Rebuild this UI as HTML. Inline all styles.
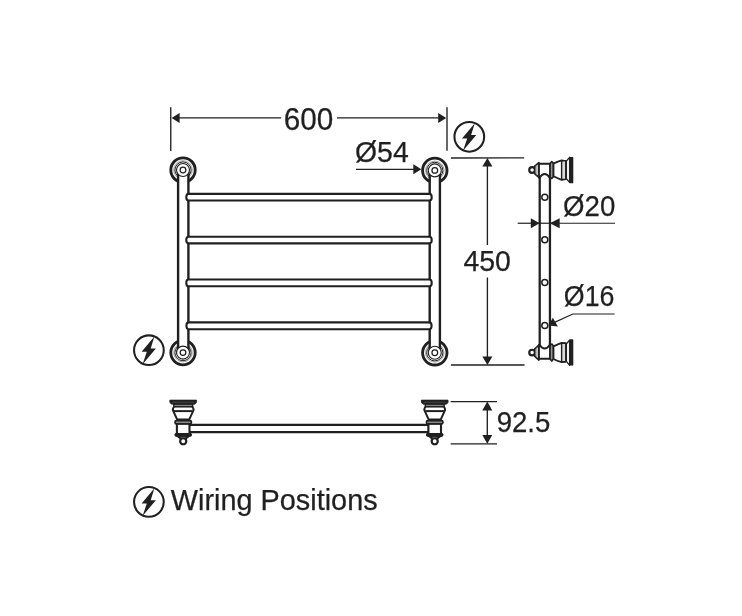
<!DOCTYPE html>
<html><head><meta charset="utf-8">
<style>
html,body{margin:0;padding:0;background:#fff;width:742px;height:616px;overflow:hidden}
svg{display:block;filter:grayscale(1)}
text{font-family:"Liberation Sans",sans-serif;fill:#231f20;stroke:#231f20;stroke-width:0.25}
</style></head><body>
<svg width="742" height="616" viewBox="0 0 742 616">
<defs>
  <g id="bolt">
    <circle cx="0" cy="0" r="14.85" fill="none" stroke="#231f20" stroke-width="2.05"/>
    <path d="M5.5,-13.6 L-7.3,1.6 L-2.1,1.6 L-6.3,14 L7,-1.7 L1.8,-1.7 Z" fill="#231f20"/>
  </g>
  <g id="knobTop">
    <circle cx="0" cy="0" r="12.2" fill="#fff" stroke="#231f20" stroke-width="2.85"/>
    <circle cx="0" cy="0" r="9.3" fill="none" stroke="#9a9899" stroke-width="0.9"/>
    <circle cx="0" cy="0" r="8.1" fill="none" stroke="#231f20" stroke-width="1"/>
  </g>
  <g id="knobInner">
    <circle cx="0" cy="0" r="6.5" fill="#fff" stroke="#231f20" stroke-width="1.15"/>
    <circle cx="0" cy="0" r="2.85" fill="none" stroke="#231f20" stroke-width="1.25"/>
  </g>
</defs>
<g stroke="#231f20" fill="none">
  <!-- 600 dimension -->
  <line x1="170.75" y1="107.3" x2="170.75" y2="151" stroke-width="1.35"/>
  <line x1="447" y1="107.3" x2="447" y2="150.7" stroke-width="1.35"/>
  <line x1="176" y1="117.9" x2="281.2" y2="117.9" stroke-width="1.35"/>
  <line x1="337" y1="117.9" x2="442" y2="117.9" stroke-width="1.35"/>
</g>
<g fill="#231f20">
  <path d="M171.6,117.9 L179.6,112.9 L179.6,122.9 Z"/>
  <path d="M446.2,117.9 L438.2,112.9 L438.2,122.9 Z"/>
</g>
<text x="283.70" y="130.38" font-size="30.80" textLength="49.60" lengthAdjust="spacingAndGlyphs">600</text>

<!-- Ø54 -->
<text x="355.01" y="162.00" font-size="29.09" textLength="53.70" lengthAdjust="spacingAndGlyphs">Ø54</text>
<line x1="355.9" y1="169.3" x2="415" y2="169.3" stroke="#231f20" stroke-width="1.3"/>
<path d="M421.3,169.3 L413.3,164.3 L413.3,174.3 Z" fill="#231f20"/>

<!-- bolt icons -->
<use href="#bolt" x="469.3" y="136.8"/>
<use href="#bolt" x="148.9" y="350.2"/>
<use href="#bolt" x="148.9" y="501.9"/>

<!-- front view -->
<g id="front">
  <use href="#knobTop" x="183" y="170"/>
  <use href="#knobTop" x="434.8" y="170.4"/>
  <use href="#knobTop" x="183" y="352.6"/>
  <use href="#knobTop" x="434.8" y="352.8"/>
  <!-- tubes -->
  <rect x="178.1" y="170" width="10.3" height="182.6" fill="#fff"/>
  <rect x="429.7" y="170.4" width="10.2" height="182.4" fill="#fff"/>
  <g stroke="#231f20" stroke-width="2.4">
    <line x1="178.1" y1="172" x2="178.1" y2="350.6"/>
    <line x1="188.4" y1="172" x2="188.4" y2="350.6"/>
    <line x1="429.7" y1="172" x2="429.7" y2="350.6"/>
    <line x1="439.9" y1="172" x2="439.9" y2="350.6"/>
  </g>
  <use href="#knobInner" x="183" y="170"/>
  <use href="#knobInner" x="434.8" y="170.4"/>
  <use href="#knobInner" x="183" y="352.6"/>
  <use href="#knobInner" x="434.8" y="352.8"/>
  <!-- bars -->
  <g stroke="#231f20" stroke-width="2.1" fill="#fff">
    <path d="M188.6,193.90 L429.4,193.90 A2.3,3.30 0 0 1 429.4,200.50 L188.6,200.50 A2.3,3.30 0 0 1 188.6,193.90 Z"/>
    <path d="M188.6,236.73 L429.4,236.73 A2.3,3.33 0 0 1 429.4,243.40 L188.6,243.40 A2.3,3.33 0 0 1 188.6,236.73 Z"/>
    <path d="M188.6,279.56 L429.4,279.56 A2.3,3.37 0 0 1 429.4,286.30 L188.6,286.30 A2.3,3.37 0 0 1 188.6,279.56 Z"/>
    <path d="M188.6,322.39 L429.4,322.39 A2.3,3.41 0 0 1 429.4,329.20 L188.6,329.20 A2.3,3.41 0 0 1 188.6,322.39 Z"/>
  </g>
</g>

<!-- 450 dimension -->
<g stroke="#231f20" stroke-width="1.35">
  <line x1="450.9" y1="158" x2="524.2" y2="157.9"/>
  <line x1="450.9" y1="365" x2="524.5" y2="365"/>
  <line x1="487.4" y1="162" x2="487.4" y2="245"/>
  <line x1="487.4" y1="277.5" x2="487.4" y2="361"/>
</g>
<path d="M487.4,158 L482.4,166.4 L492.4,166.4 Z" fill="#231f20"/>
<path d="M487.4,365 L482.4,356.6 L492.4,356.6 Z" fill="#231f20"/>
<text x="463.47" y="270.70" font-size="29.68" textLength="47.46" lengthAdjust="spacingAndGlyphs">450</text>

<!-- side view -->
<g stroke="#231f20" stroke-width="2.3" fill="none">
  <line x1="539.7" y1="176" x2="539.7" y2="346"/>
  <line x1="549.95" y1="176" x2="549.95" y2="346"/>
</g>
<g stroke="#231f20" stroke-width="1.5" fill="#fff">
  <circle cx="544.8" cy="197.3" r="3"/>
  <circle cx="544.8" cy="239.7" r="3"/>
  <circle cx="544.8" cy="282.6" r="3"/>
  <circle cx="544.8" cy="325.5" r="3"/>
</g>
<g id="bracketSide" stroke="#231f20" fill="#fff" stroke-linejoin="round">
  <circle cx="532.1" cy="170" r="2.85" stroke-width="2.2"/>
  <path d="M534.8,166.2 L538.9,162.6 L538.9,177.4 L534.8,173.8 Z" stroke-width="1.7"/>
  <line x1="536.8" y1="165" x2="536.8" y2="175.2" stroke-width="0.8" stroke="#777"/>
  <path d="M538.9,163.8 L550.2,163.8 L550.2,177.6 L549.8,177.6 Q544.6,170.6 539.6,177.6 L538.9,177.6 Z" stroke-width="2"/>
  <path d="M550.1,163.6 L551.8,161.5 L553.5,163.6 L553.5,176.5 L551.8,178.5 L550.1,177.6 Z" stroke-width="1.6" fill="#9a9898"/>
  <path d="M553.5,163.6 Q557,161.8 561.6,160.4 L565.8,161.1 L565.8,179.2 L561.6,179.8 Q557,178 553.5,176.2 Z" stroke-width="1.8"/>
  <rect x="561.6" y="160.8" width="4.2" height="18.6" fill="#d8d8d8" stroke-width="1.4"/>
  <path d="M566.4,161.2 L569.6,157.3 L569.6,182.4 L566.4,178.8 Z" stroke-width="1.3"/>
  <rect x="569.4" y="157.1" width="3.9" height="26.2" rx="0.6" fill="#231f20" stroke="none"/>
</g>
<use href="#bracketSide" transform="translate(0,522.6) scale(1,-1)"/>

<!-- Ø20 -->
<line x1="517.7" y1="223.25" x2="539" y2="223.25" stroke="#231f20" stroke-width="1.2"/>
<line x1="539.6" y1="223.25" x2="549.8" y2="223.25" stroke="#231f20" stroke-width="1.2"/>
<line x1="551" y1="223.25" x2="615" y2="223.25" stroke="#231f20" stroke-width="1.2"/>
<path d="M539.6,223.25 L530.8,218.3 L530.8,228.2 Z" fill="#231f20"/>
<path d="M549.8,223.25 L559.7,218.3 L559.7,228.2 Z" fill="#231f20"/>
<text x="563.06" y="216.10" font-size="30.39" textLength="52.21" lengthAdjust="spacingAndGlyphs">Ø20</text>

<!-- Ø16 -->
<text x="563.86" y="306.10" font-size="30.10" textLength="50.65" lengthAdjust="spacingAndGlyphs">Ø16</text>
<polyline points="614.6,314 572.8,314 554,322.6" stroke="#231f20" stroke-width="1.2" fill="none"/>
<path d="M548.5,325.4 L552.8,317.8 L557.9,326.6 Z" fill="#231f20"/>

<!-- plan view -->
<g stroke="#231f20" stroke-width="2.3" fill="#fff">
  <path d="M190,424.9 L429,424.9 L429,432.2 L190,432.2"/>
</g>
<g id="bracketPlan" stroke="#231f20" fill="#fff" stroke-linejoin="round">
  <path d="M179.9,437 L179.9,439.5 L186.5,439.5 L186.5,437 Z" fill="#231f20" stroke="none"/>
  <circle cx="183.2" cy="441.2" r="3.05" stroke-width="2.2"/>
  <path d="M175.3,434.8 L179.7,438.4 L186.7,438.4 L191.1,434.8 Z" fill="#231f20" stroke-width="1.2"/>
  <line x1="180.7" y1="437" x2="185.7" y2="437" stroke-width="0.8" stroke="#9a9899"/>
  <rect x="176.9" y="423.5" width="12.6" height="10.6" stroke-width="2.1"/>
  <rect x="175" y="420.6" width="16.4" height="3.2" rx="1.4" fill="#888" stroke-width="1.7"/>
  <rect x="175.1" y="433.6" width="16.2" height="2.6" rx="1.1" fill="#231f20" stroke-width="1.3"/>
  <path d="M174.2,406.5 Q172.2,409 173.1,410.7 L177.2,419.6 L189.2,419.6 L193.3,410.7 Q194.2,409 192.2,406.5 Z" stroke-width="2"/>
  <rect x="175.3" y="407.8" width="15.8" height="2.2" fill="#fff" stroke="none"/>
  <line x1="174" y1="411.1" x2="192.4" y2="411.1" stroke-width="2"/>
  <path d="M173.8,404 L192.6,404 L192.6,406.5 L173.8,406.5 Z" stroke-width="1.4" fill="#aaa"/>
  <path d="M169.9,400 L196.5,400 Q197.6,402.2 194.9,404.3 L171.5,404.3 Q168.8,402.2 169.9,400 Z" fill="#231f20" stroke="#231f20" stroke-width="0.6"/>
  <line x1="172" y1="402.3" x2="194.4" y2="402.3" stroke-width="0.6" stroke="#5a5758"/>
</g>
<use href="#bracketPlan" transform="translate(617.9,0) scale(-1,1)"/>

<!-- 92.5 -->
<g stroke="#231f20" stroke-width="1.35">
  <line x1="450.7" y1="401.6" x2="497" y2="401.6"/>
  <line x1="450.7" y1="443.85" x2="497" y2="443.85"/>
  <line x1="487.3" y1="405" x2="487.3" y2="440"/>
</g>
<path d="M487.3,401.6 L482.3,410.6 L492.3,410.6 Z" fill="#231f20"/>
<path d="M487.3,443.85 L482.3,434.9 L492.3,434.9 Z" fill="#231f20"/>
<text x="496.70" y="432.30" font-size="29.68" textLength="53.62" lengthAdjust="spacingAndGlyphs">92.5</text>

<!-- legend -->
<text x="170.85" y="510.30" font-size="30.21" textLength="206.78" lengthAdjust="spacingAndGlyphs">Wiring Positions</text>
</svg>
</body></html>
